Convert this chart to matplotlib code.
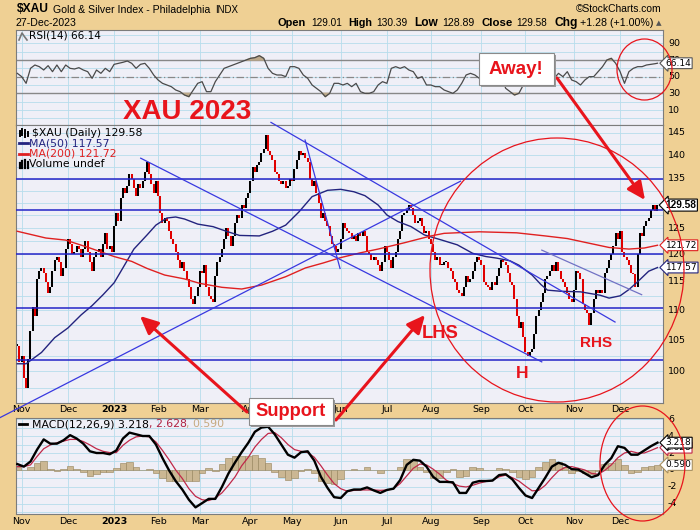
import numpy as np
import pandas as pd
import matplotlib
matplotlib.use("Agg")
import matplotlib.pyplot as plt
from matplotlib.patches import Ellipse, FancyArrowPatch, Rectangle
from matplotlib.lines import Line2D
from matplotlib.transforms import blended_transform_factory as blend

# ---------------------------------------------------------------- data
holidays = ["2022-11-24", "2022-12-26", "2023-01-02", "2023-01-16", "2023-02-20",
            "2023-04-07", "2023-05-29", "2023-06-19", "2023-07-04", "2023-09-04",
            "2023-11-23", "2023-12-25"]
first_day, last_day = "2022-10-28", "2023-12-27"

closes = [
    # Oct 28, 31 2022
    104.0, 101.5,
    # Nov 2022
    102.5, 99.0, 97.5, 102.0, 106.5, 110.5, 109.0, 115.5, 117.0, 117.5, 116.5,
    115.0, 113.0, 114.0, 117.0, 119.0, 119.5, 118.5, 116.0, 117.5, 121.0,
    # Dec 2022
    123.0, 122.0, 120.0, 120.5, 121.5, 121.0, 119.5, 121.0, 122.5, 120.5, 118.5,
    117.0, 119.5, 120.5, 121.0, 119.5, 122.0, 124.0, 121.0, 121.5, 120.5,
    # Jan 2023
    125.5, 128.0, 126.5, 131.0, 133.0, 132.0, 133.5, 136.0, 135.0, 133.0,
    131.5, 134.0, 133.0, 134.5, 136.5, 138.5, 136.0, 134.0, 132.0, 134.5,
    # Feb
    131.5, 128.0, 126.0, 127.0, 126.5, 124.5, 123.0, 122.0, 120.5, 119.0,
    117.5, 118.5, 117.0, 115.5, 114.0, 112.0, 111.0, 112.5, 114.0,
    # Mar
    117.0, 116.5, 118.0, 114.0, 112.5, 112.0, 111.5, 116.0, 118.5, 119.5, 121.0,
    123.0, 125.0, 123.5, 121.5, 123.5, 126.0, 127.5, 127.0, 129.5, 129.0, 131.0, 132.0,
    # Apr
    134.5, 137.5, 136.5, 138.0, 138.5, 140.5, 141.5, 144.5, 141.0, 140.0,
    139.0, 136.5, 136.0, 134.5, 134.0, 134.5, 133.0, 133.5, 135.0,
    # May
    134.5, 137.0, 139.0, 141.0, 140.0, 140.5, 139.5, 138.5, 135.0, 133.5, 134.5,
    132.0, 130.0, 127.0, 128.0, 126.5, 125.5, 123.5, 122.0, 121.5, 120.5, 121.0,
    # Jun
    123.0, 126.0, 125.0, 124.5, 124.0, 123.0, 123.5, 122.5, 124.0, 123.5, 124.5,
    123.5, 120.5, 120.0, 119.0, 119.5, 119.0, 118.0, 117.0, 118.5, 121.5,
    # Jul
    120.5, 119.0, 117.5, 119.5, 120.5, 123.0, 124.5, 127.5, 128.0, 128.5,
    129.5, 129.0, 127.5, 126.0, 126.5, 127.0, 125.5, 124.0, 124.5, 123.0,
    # Aug
    122.0, 120.5, 119.0, 119.5, 118.0, 118.0, 118.5, 118.5, 117.5, 117.0, 115.5,
    115.0, 113.5, 113.0, 112.5, 114.0, 116.0, 115.0, 115.5, 117.0, 118.5, 119.5, 119.0,
    # Sep
    118.0, 115.0, 114.5, 114.0, 113.5, 115.0, 114.5, 116.0, 117.5, 119.0,
    118.5, 118.0, 116.5, 115.0, 114.5, 112.0, 109.0, 107.0, 108.0, 105.5,
    # Oct
    103.0, 102.5, 103.0, 103.5, 106.0, 109.0, 110.0, 111.5, 113.0, 115.5, 116.0,
    117.0, 118.0, 117.0, 118.5, 117.0, 115.5, 115.0, 114.0, 113.0, 112.0, 111.5,
    # Nov 2023
    113.5, 117.0, 116.5, 115.5, 111.0, 110.0, 109.5, 107.5, 109.5, 112.0, 113.5,
    113.0, 113.5, 113.0, 116.5, 117.5, 119.0, 120.0, 121.5, 124.0, 123.0,
    # Dec 2023
    124.5, 120.5, 119.5, 119.0, 118.0, 116.5, 116.3, 114.0, 120.0, 124.0,
    123.5, 125.5, 126.5, 127.0, 128.5, 129.5, 128.3, 129.58,
]

ma50_dates = ["2022-10-28", "2022-11-03", "2022-11-14", "2022-11-22", "2022-12-01",
              "2022-12-09", "2022-12-16", "2022-12-23", "2023-01-03", "2023-01-09",
              "2023-01-17", "2023-01-25", "2023-01-31", "2023-02-07", "2023-02-13",
              "2023-02-17", "2023-02-28", "2023-03-09", "2023-03-17", "2023-03-27",
              "2023-04-10", "2023-04-18", "2023-04-26", "2023-05-04", "2023-05-12",
              "2023-05-23", "2023-06-01", "2023-06-09", "2023-06-16", "2023-06-27",
              "2023-07-03", "2023-07-11", "2023-07-19", "2023-07-27", "2023-08-08",
              "2023-08-17", "2023-08-28", "2023-09-06", "2023-09-13", "2023-09-21",
              "2023-09-27", "2023-10-05", "2023-10-11", "2023-10-16", "2023-10-24",
              "2023-11-06", "2023-11-17", "2023-11-24", "2023-12-01", "2023-12-07",
              "2023-12-13", "2023-12-20", "2023-12-27"]
ma50_vals = [101.2, 101.2, 103.0, 105.4, 107.0, 109.2, 110.8, 112.7, 114.8, 117.5,
             121.0, 123.7, 125.6, 127.0, 127.2, 126.8, 125.8, 125.3, 124.4, 123.6,
             123.5, 124.4, 125.6, 128.2, 131.3, 132.6, 132.8, 132.3, 131.5, 129.6,
             127.6, 126.3, 125.3, 123.7, 122.7, 121.8, 120.2, 119.6, 119.3, 118.8,
             118.0, 116.2, 114.5, 113.5, 113.3, 113.2, 112.6, 112.1, 112.5, 113.6,
             115.0, 116.9, 117.57]

ma200_dates = ["2022-10-28", "2022-11-16", "2022-11-30", "2022-12-15", "2023-01-03",
               "2023-01-13", "2023-01-25", "2023-02-06", "2023-02-17", "2023-03-01",
               "2023-03-15", "2023-03-28", "2023-04-11", "2023-04-26", "2023-05-09",
               "2023-05-19", "2023-06-01", "2023-06-14", "2023-06-27", "2023-07-14",
               "2023-08-01", "2023-08-09", "2023-08-31", "2023-09-26", "2023-10-13",
               "2023-10-27", "2023-11-10", "2023-11-24", "2023-12-07", "2023-12-18",
               "2023-12-27"]
ma200_vals = [124.4, 123.1, 122.7, 121.2, 119.6, 118.7, 117.4, 116.2, 115.5, 114.7,
              114.0, 113.7, 114.4, 115.9, 117.5, 118.4, 119.4, 120.3, 121.0, 122.2,
              123.5, 124.0, 124.3, 124.1, 123.5, 123.0, 122.1, 121.3, 121.0, 121.2,
              121.72]

# RSI(14): every 2nd session from the first one, then the last session
rsi_vals = [
    54, 50, 42, 60, 64, 62, 58, 63.2, 56, 64,
    56, 64, 60, 59.2, 60.8, 58, 56, 48, 58, 54,
    60, 56, 64.8, 66, 67.2, 68.8, 66, 60, 64.8, 66,
    60, 52, 46, 42, 40, 38, 34, 32, 28, 26,
    34, 42, 44, 32, 32, 44, 52, 60, 62, 64,
    66, 68, 70, 72, 72.8, 75.2, 72, 60, 54, 52,
    52, 50, 62, 62, 60, 52, 48, 40, 36, 32,
    26, 30, 42, 42, 40, 42, 38, 42, 32, 30,
    30, 32, 40, 44, 42, 60, 62, 60, 62, 58,
    56, 48, 50, 40, 40, 38, 38, 34, 32, 30,
    34, 42, 52, 54, 52, 48, 52, 50, 48, 54,
    50, 36, 32, 28, 30, 40, 54, 62, 60, 62,
    60, 52, 48, 54, 50, 56, 46, 44, 40, 46,
    50, 50, 56, 62, 70, 72, 66, 56, 42, 56,
    60, 62, 62, 64, 64.8, 65.6, 66.14,
]

# MACD(12,26,9): every 3rd session
macd_vals = [
    0.7, 0.4, 1.0, 2.4, 3.6, 3.1, 3.1, 3.5, 4.1, 3.7,
    3.1, 2.2, 2.0, 2.0, 1.85, 2.3, 3.7, 4.4, 4.2, 4.0,
    4.0, 3.0, 1.4, -0.05, -1.3, -2.3, -3.5, -4.4, -3.9, -3.4,
    -3.4, -2.0, -0.4, 0.9, 2.1, 3.2, 4.5, 5.0, 5.1, 4.2,
    3.0, 1.8, 1.45, 2.1, 2.2, 1.1, -0.8, -2.1, -3.2, -3.3,
    -2.5, -2.3, -2.3, -2.05, -2.4, -2.7, -2.35, -2.2, -1.2, 0.6,
    1.2, 1.1, 0.4, -0.8, -1.4, -1.4, -1.45, -2.7, -2.7, -1.5,
    -1.3, -1.3, -1.25, -0.6, -0.5, -1.1, -2.1, -3.0, -3.3, -2.1,
    -0.9, 0.4, 0.85, 0.6, 0.1, 0.05, -0.4, -0.85, -0.6, 0.6,
    1.4, 2.8, 2.6, 1.8, 1.8, 2.3, 2.8, 3.218,
]
signal_vals = [
    0.4, 0.4, 0.6, 1.6, 2.5, 2.95, 3.2, 3.4, 3.6, 3.6,
    3.35, 2.95, 2.5, 2.2, 2.05, 2.05, 2.9, 3.5, 3.9, 4.0,
    3.9, 3.3, 2.3, 1.2, 0.0, -1.0, -2.2, -3.1, -3.5, -3.6,
    -3.3, -2.7, -1.8, -0.8, 0.5, 1.5, 2.7, 3.6, 4.3, 4.4,
    3.8, 3.0, 2.4, 2.2, 2.05, 1.5, 0.5, -0.6, -1.6, -2.2,
    -2.5, -2.4, -2.35, -2.35, -2.35, -2.4, -2.35, -2.2, -1.6, -0.7,
    0.2, 0.7, 0.6, 0.1, -0.5, -1.2, -1.6, -1.9, -2.0, -1.8,
    -1.55, -1.35, -1.2, -0.8, -0.6, -0.9, -1.3, -1.9, -2.45, -2.4,
    -1.8, -0.9, -0.1, 0.3, 0.4, 0.2, 0.0, -0.4, -0.5, -0.05,
    0.6, 1.45, 2.0, 2.2, 2.0, 2.0, 2.3, 2.628,
]

support_levels = [135.0, 128.5, 120.1, 110.4, 101.8]
price_ticks = [100, 105, 110, 115, 120, 125, 130, 135, 140, 145]
rsi_ticks = [90, 70, 50, 30, 10]
macd_ticks = [6, 4, 2, 0, -2, -4]

# ---------------------------------------------------------------- setup
W, H = 700, 530
BG = "#EFD094"
PANEL = "#EFEFF7"
GRID = "#B6DDEC"
RED = "#E8141C"
HDR = "Liberation Sans"
SANS = "DejaVu Sans"

days = pd.bdate_range(first_day, last_day)
days = days[~days.isin(pd.to_datetime(holidays))]
assert len(days) == len(closes), (len(days), len(closes))
n = len(days)
pos = np.arange(n)
XL = (-0.59, 293.5)

month_idx = [i for i in range(1, n) if days[i].month != days[i - 1].month]
month_lbl = [("2023" if days[i].month == 1 else days[i].strftime("%b")) for i in month_idx]

fig = plt.figure(figsize=(W / 100, H / 100), dpi=100, facecolor=BG)
renderer = fig.canvas.get_renderer()


def ptext(x, y, s, **kw):
    kw.setdefault("va", "center")
    return fig.text(x / W, 1 - y / H, s, **kw)


def fit(x0, x1, y, s, weight="normal", max_fs=9.5, **kw):
    t = ptext(x0, y, s, fontsize=10, family=HDR, fontweight=weight, **kw)
    w = t.get_window_extent(renderer=renderer).width
    t.set_fontsize(min(max_fs, 10 * (x1 - x0) / w))
    return t


def add_ax(x0, y0, x1, y1):
    ax = fig.add_axes([x0 / W, 1 - y1 / H, (x1 - x0) / W, (y1 - y0) / H])
    ax.set_facecolor(PANEL)
    for s in ax.spines.values():
        s.set_color("#7c7c7c")
        s.set_linewidth(0.8)
    ax.set_xlim(*XL)
    ax.set_xticks([])
    ax.set_yticks([])
    ax.minorticks_off()
    for i in month_idx:
        ax.axvline(i, color=GRID, lw=0.6, zorder=0)
    return ax


def right_label(ax, val, s, x=668, **kw):
    ax.text(x / W, val, s, transform=blend(fig.transFigure, ax.transData),
            ha="left", va="center", fontsize=6.8, family=SANS, clip_on=False, **kw)


def tag(ax, val, s, ec, bold=False):
    if bold:
        kw = dict(family=HDR, fontweight="bold", fontsize=7.3)
    else:
        kw = dict(family=SANS, fontsize=6.5)
    ax.text(665.5 / W, val, s, transform=blend(fig.transFigure, ax.transData),
            ha="left", va="center", clip_on=False, zorder=20,
            bbox=dict(boxstyle="larrow,pad=0.1", fc="white", ec=ec, lw=0.8), **kw)


def month_labels(ax, ypx_below):
    for i, lbl in zip(month_idx, month_lbl):
        ax.annotate(lbl, xy=(i, 0), xycoords=ax.get_xaxis_transform(),
                    xytext=(0, -ypx_below * 0.72), textcoords="offset points",
                    ha="center", va="center", fontsize=6.8, family=SANS,
                    fontweight="bold" if lbl == "2023" else "normal", annotation_clip=False)


# ---------------------------------------------------------------- header
fit(17, 49, 9.5, "$XAU", weight="bold", max_fs=12)
fit(52.7, 209.8, 10, "Gold & Silver Index - Philadelphia")
fit(215.6, 238.8, 10.3, "INDX", max_fs=8.5)
fit(576, 662, 9.5, "\u00a9StockCharts.com")
fit(16, 76.8, 22.7, "27-Dec-2023")
for x0, x1, s, b in [(277.7, 305.8, "Open", True), (311, 341.5, "129.01", False),
                     (348, 372, "High", True), (376, 407, "130.39", False),
                     (414, 437.5, "Low", True), (442, 474, "128.89", False),
                     (481, 512, "Close", True), (516.5, 547, "129.58", False),
                     (554.5, 578, "Chg", True), (580, 652.7, "+1.28 (+1.00%)", False)]:
    fit(x0, x1, 22.7, s, weight="bold" if b else "normal", max_fs=10)
ptext(655.5, 23, "\u25b2", fontsize=5.2, family=SANS, color="#555555")

# ---------------------------------------------------------------- RSI panel
ax_r = add_ax(16, 30, 663, 125)
ax_r.set_ylim(-8, 106)
for v in range(0, 101, 10):
    ax_r.axhline(v, color=GRID, lw=0.6, zorder=0)
ax_r.axhline(70, color="#888888", lw=1.0, zorder=1)
ax_r.axhline(30, color="#888888", lw=1.0, zorder=1)
ax_r.axhline(50, color="#888888", lw=0.9, ls=(0, (6, 2, 1, 2)), zorder=1)
rpos = np.r_[pos[::2], pos[-1]]
rsi = np.array(rsi_vals, dtype=float)
ax_r.fill_between(rpos, rsi, 70, where=rsi >= 70, interpolate=True, color="#BCA889", zorder=2)
ax_r.fill_between(rpos, rsi, 30, where=rsi <= 30, interpolate=True, color="#BCA889", zorder=2)
ax_r.plot(rpos, rsi, color="#4a4a4a", lw=0.9, zorder=3)
for v in rsi_ticks:
    right_label(ax_r, v, str(v))
tag(ax_r, rsi_vals[-1], "66.14", "#555555")
fig.add_artist(Line2D([19 / W, 22 / W, 24 / W, 27 / W], [1 - 40 / H, 1 - 33 / H, 1 - 36 / H, 1 - 40 / H],
                      color="#777777", lw=1.2))
ptext(29, 36, "RSI(14) 66.14", fontsize=7.6, family=SANS)

# ---------------------------------------------------------------- price panel
ax_p = add_ax(16, 125, 663, 403)
ax_p.set_yscale("log")
ax_p.set_ylim(95.2, 146.8)
ax_p.set_yticks([])
ax_p.minorticks_off()
for v in np.arange(95, 147.6, 2.5):
    ax_p.axhline(v, color=GRID, lw=0.6, zorder=0)

c = np.array(closes)
o = np.r_[c[0], c[:-1]]
up = c >= o
lo, hi = np.minimum(o, c), np.maximum(o, c)
hi = np.where(hi - lo < 0.3, lo + 0.3, hi)
ax_p.vlines(pos[up], lo[up], hi[up], color="black", lw=1.45, zorder=2)
ax_p.vlines(pos[~up], lo[~up], hi[~up], color="#E00000", lw=1.45, zorder=2)

ma50_x = days.get_indexer(pd.to_datetime(ma50_dates))
ma200_x = days.get_indexer(pd.to_datetime(ma200_dates))
ax_p.plot(ma50_x, ma50_vals, color="#23237E", lw=1.0, zorder=3)
ax_p.plot(ma200_x, ma200_vals, color="#E02020", lw=1.0, zorder=3)

for v in support_levels:
    ax_p.axhline(v, color="#2424C8", lw=1.1, zorder=4)

trend = [((-7.9, 93.05), (201.5, 134.5), "#3838E0", False),
         ((56.1, 139.4), (238.4, 101.5), "#3838E0", True),
         ((115.3, 147.4), (271.7, 108.0), "#3838E0", False),
         ((130.8, 143.4), (146.7, 117.4), "#3838E0", True),
         ((238.4, 120.8), (283.8, 112.7), "#7272C4", True)]
for (x0, y0), (x1, y1), col, clip in trend:
    ax_p.plot([x0, x1], [y0, y1], color=col, lw=0.9, zorder=4, clip_on=clip)

for v in price_ticks:
    right_label(ax_p, v, str(v))
tag(ax_p, 129.58, "129.58", "black", bold=True)
tag(ax_p, ma200_vals[-1], "121.72", "#E02020")
tag(ax_p, ma50_vals[-1], "117.57", "#23237E")
month_labels(ax_p, 6.5)

# legend of price panel
for xx, y0, y1 in [(20, 131, 136), (22.5, 129, 135), (25, 130, 137), (27.5, 132, 136)]:
    fig.add_artist(Line2D([xx / W, xx / W], [1 - y1 / H, 1 - y0 / H], color="black", lw=1.4))
ptext(31.7, 132.7, "$XAU (Daily) 129.58", fontsize=7.8, family=SANS)
fig.add_artist(Line2D([19 / W, 28 / W], [1 - 143.3 / H] * 2, color="#23237E", lw=2))
ptext(29.3, 143.3, "MA(50) 117.57", fontsize=7.8, family=SANS, color="#23237E")
fig.add_artist(Line2D([19 / W, 28 / W], [1 - 154 / H] * 2, color="#E02020", lw=2))
ptext(29.3, 154, "MA(200) 121.72", fontsize=7.8, family=SANS, color="#E02020")
for xx, y0 in [(20, 163), (22.5, 161), (25, 160), (27.5, 162)]:
    fig.add_artist(Line2D([xx / W, xx / W], [1 - 168 / H, 1 - y0 / H], color="black", lw=1.6))
ptext(29.3, 164.3, "Volume undef", fontsize=7.8, family=SANS)

# ---------------------------------------------------------------- MACD panel
ax_m = add_ax(16, 418, 663, 514)
ax_m.set_ylim(-5.18, 6.12)
for v in range(-5, 7):
    ax_m.axhline(v, color=GRID, lw=0.6, zorder=0)
mpos = pos[::3]
macd = np.array(macd_vals)
sig = np.array(signal_vals)
hist = macd - sig
ax_m.bar(mpos, hist, width=3.0, color="#CBB793", edgecolor="#958259", linewidth=0.4, zorder=2)
ax_m.plot(mpos, sig, color="#C02848", lw=0.9, zorder=3)
ax_m.plot(mpos, macd, color="black", lw=1.7, zorder=4)
for v in macd_ticks:
    right_label(ax_m, v, str(v))
tag(ax_m, sig[-1], "2.628", "#C02848")
tag(ax_m, macd[-1], "3.218", "black")
tag(ax_m, hist[-1], "0.590", "#A89060")
month_labels(ax_m, 7.5)

fig.add_artist(Line2D([19 / W, 27 / W], [1 - 424.3 / H] * 2, color="black", lw=2))
x = 31.7
for s, col in [("MACD(12,26,9) 3.218", "black"), (", 2.628", "#B02040"), (", 0.590", "#C6AA80")]:
    t = ptext(x, 424.3, s, fontsize=7.8, family=SANS, color=col)
    x = t.get_window_extent(renderer=renderer).x1

# ---------------------------------------------------------------- annotations
def ell(cx, cy, w, h):
    fig.add_artist(Ellipse((cx / W, 1 - cy / H), w / W, h / H, transform=fig.transFigure,
                           fill=False, ec=RED, lw=0.9, zorder=30))


ell(644.5, 69.5, 55, 61)
ell(557, 270, 254, 264)
ell(642.5, 463.5, 85, 115)


def arrow(x0, y0, x1, y1):
    fig.add_artist(FancyArrowPatch((x0 / W, 1 - y0 / H), (x1 / W, 1 - y1 / H),
                                   transform=fig.transFigure, arrowstyle="-|>,head_length=0.6,head_width=0.28",
                                   mutation_scale=18, color=RED, lw=2.2, shrinkA=0, shrinkB=0, zorder=31))


arrow(557, 78, 645, 200)
arrow(247, 412, 140, 316)
arrow(336, 420, 425, 315)


def note_box(x0, y0, x1, y1, s, fs):
    fig.add_artist(Rectangle(((x0 + 2) / W, 1 - (y1 + 2) / H), (x1 - x0) / W, (y1 - y0) / H,
                             transform=fig.transFigure, fc="#9a9a9a", ec="none", zorder=32))
    fig.add_artist(Rectangle((x0 / W, 1 - y1 / H), (x1 - x0) / W, (y1 - y0) / H,
                             transform=fig.transFigure, fc="white", ec="#8a8a8a", lw=0.8, zorder=33))
    ptext((x0 + x1) / 2, (y0 + y1) / 2, s, fontsize=fs, fontweight="bold", color=RED,
          family="Liberation Sans", ha="center", zorder=34)


note_box(478.6, 53.3, 553.6, 85, "Away!", 13.5)
note_box(249, 398, 333, 425, "Support", 13.2)

ptext(187.5, 112, "XAU 2023", fontsize=20, fontweight="bold", color=RED, family="Liberation Sans",
      ha="center", zorder=35)
ptext(440, 333.3, "LHS", fontsize=13.2, fontweight="bold", color=RED, family="Liberation Sans", ha="center")
ptext(522.5, 373.3, "H", fontsize=12.5, fontweight="bold", color=RED, family="Liberation Sans", ha="center")
ptext(595.8, 343.3, "RHS", fontsize=11, fontweight="bold", color=RED, family="Liberation Sans", ha="center")

fig.savefig("out.png", dpi=100, facecolor=BG)
